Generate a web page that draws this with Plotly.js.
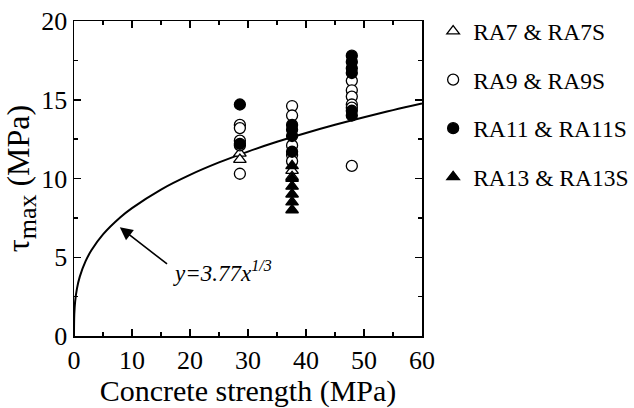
<!DOCTYPE html>
<html>
<head>
<meta charset="utf-8">
<script src="https://cdn.plot.ly/plotly-3.0.1.min.js"></script>
<style>html,body{margin:0;padding:0;background:#fff;}#chart{width:634px;height:408px;}</style>
</head>
<body>
<div id="chart"></div>
<script>
// Data
const ra7X = [28.6, 28.6, 37.6, 37.6];
const ra7Y = [11.6, 11.2, 10.5, 10.1];

const ra9X = [28.6, 28.6, 28.6, 28.6, 28.6, 37.6, 37.6, 37.6, 37.6, 37.6, 47.9, 47.9, 47.9, 47.9, 47.9, 47.9];
const ra9Y = [13.4, 13.2, 12.4, 12.1, 10.3, 14.6, 14.0, 12.1, 11.5, 11.1, 16.2, 15.6, 15.2, 14.7, 14.5, 10.8];

const ra11X = [28.6, 28.6, 37.6, 37.6, 37.6, 37.6, 47.9, 47.9, 47.9, 47.9, 47.9, 47.9];
const ra11Y = [14.7, 12.2, 13.4, 13.1, 12.7, 11.7, 17.8, 17.4, 17.0, 16.7, 14.3, 14.0];

const ra13X = [37.6, 37.6, 37.6, 37.6, 37.6, 37.6];
const ra13Y = [10.8, 10.0, 9.5, 9.0, 8.5, 8.0];

// Fitted curve y = 3.77 x^(1/3)
const fitX = [0, 0.05, 0.2, 0.5, 1, 2, 3, 5, 8, 10, 15, 20, 25, 30, 35, 40, 45, 50, 55, 60];
const fitY = [0, 1.39, 2.20, 2.99, 3.77, 4.75, 5.44, 6.45, 7.54, 8.12, 9.30, 10.23, 11.02, 11.71, 12.33, 12.89, 13.41, 13.89, 14.34, 14.76];

const legendNames = ['RA7 &amp; RA7S', 'RA9 &amp; RA9S', 'RA11 &amp; RA11S', 'RA13 &amp; RA13S'];
const xTitle = 'Concrete strength (MPa)';
const yTitle = 'τ<sub><span style="font-size:26px">max</span></sub> (MPa)';
const fitLabel = '<i>y=3.77x<sup>1/3</sup></i>';

const FONT = 'Liberation Serif';
const mk = (sym, fill) => ({symbol: sym, size: 11, color: fill, line: {color: '#000', width: 1.3}});

const traces = [
  {x: fitX, y: fitY, mode: 'lines', line: {color: '#000', width: 2, shape: 'spline'}, showlegend: false, hoverinfo: 'skip'},
  {x: ra7X, y: ra7Y, mode: 'markers', name: legendNames[0], marker: mk('triangle-up', '#fff'), legendgroup: 'a'},
  {x: ra9X, y: ra9Y, mode: 'markers', name: legendNames[1], marker: mk('circle', '#fff'), legendgroup: 'b'},
  {x: ra11X, y: ra11Y, mode: 'markers', name: legendNames[2], marker: mk('circle', '#000'), legendgroup: 'c'},
  {x: ra13X, y: ra13Y, mode: 'markers', name: legendNames[3], marker: mk('triangle-up', '#000'), legendgroup: 'd'}
];

const axisCommon = {
  showline: true, linecolor: '#000', linewidth: 1.5, mirror: 'allticks',
  ticks: 'inside', ticklen: 7, tickwidth: 1.5, tickcolor: '#000',
  showgrid: false, zeroline: false,
  tickfont: {family: FONT, size: 26, color: '#000'}
};

const layout = {
  width: 634, height: 408,
  margin: {l: 74, r: 212, t: 21, b: 72, autoexpand: false},
  paper_bgcolor: '#fff', plot_bgcolor: '#fff',
  font: {family: FONT, color: '#000'},
  xaxis: Object.assign({}, axisCommon, {
    range: [0, 60], dtick: 10, tick0: 0,
    minor: {ticks: 'inside', dtick: 5, ticklen: 4, tickwidth: 1.5, tickcolor: '#000', showgrid: false},
    title: {text: xTitle, font: {family: FONT, size: 30, color: '#000'}, standoff: 4}
  }),
  yaxis: Object.assign({}, axisCommon, {
    range: [0, 20], dtick: 5, tick0: 0,
    minor: {ticks: 'inside', dtick: 2.5, ticklen: 4, tickwidth: 1.5, tickcolor: '#000', showgrid: false},
    title: {text: yTitle, font: {family: FONT, size: 32, color: '#000'}, standoff: 2}
  }),
  legend: {
    x: 1.032, y: 1.037, xanchor: 'left', yanchor: 'top',
    font: {family: FONT, size: 23.5, color: '#000'},
    traceorder: 'grouped', tracegroupgap: 15,
    bgcolor: 'rgba(0,0,0,0)', itemwidth: 30
  },
  annotations: [
    {x: 7.9, y: 6.9, ax: 16.3, ay: 4.5, axref: 'x', ayref: 'y', xref: 'x', yref: 'y',
     text: '', showarrow: true, arrowhead: 2, arrowsize: 1.6, arrowwidth: 1.6, arrowcolor: '#000'},
    {x: 16.8, y: 4.1, xref: 'x', yref: 'y', xanchor: 'left', yanchor: 'middle',
     text: fitLabel, showarrow: false, font: {family: FONT, size: 23, color: '#000'}}
  ]
};

Plotly.newPlot('chart', traces, layout, {displayModeBar: false, staticPlot: true});
</script>
</body>
</html>
